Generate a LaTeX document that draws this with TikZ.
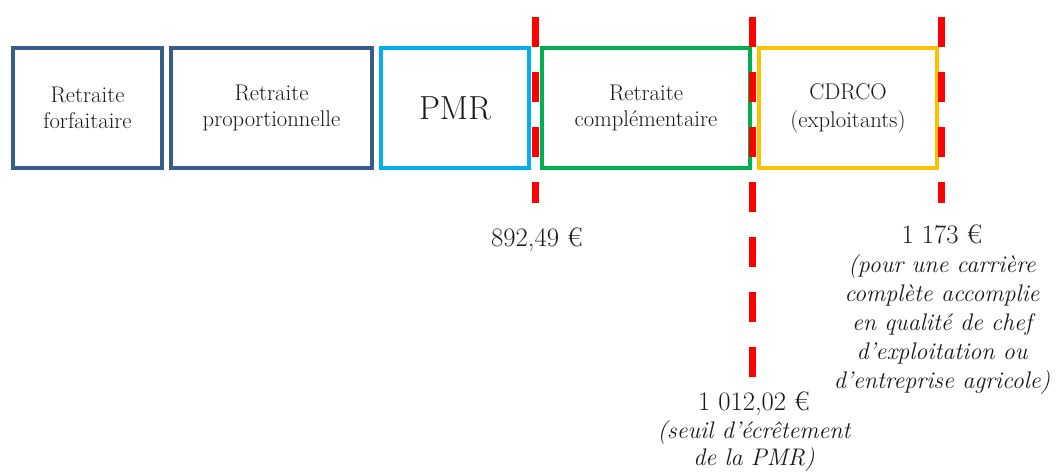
\documentclass[tikz,border=0pt]{standalone}
\usepackage{fontspec}
\definecolor{dblue}{HTML}{385D8A}
\definecolor{cyanb}{HTML}{00B0F0}
\definecolor{greenb}{HTML}{00B050}
\definecolor{yellowb}{HTML}{FFC000}
\definecolor{redl}{HTML}{FF0000}
\newcommand\fsz[2]{\fontsize{#1}{#2}\selectfont}
\tikzset{
  boxbase/.style={draw, line width=3pt, rectangle, inner sep=0pt, align=center,
    minimum height=120*0.75pt, text=black!90, font=\fsz{17pt}{20pt}},
  bluebox/.style={boxbase, draw=dblue},
  cyanbox/.style={boxbase, draw=cyanb},
  greenbox/.style={boxbase, draw=greenb},
  yellowbox/.style={boxbase, draw=yellowb},
  redline/.style={draw=redl, line width=5.25pt, dash pattern=on 22.5pt off 18.75pt},
  lbl/.style={align=center, text=black!90, inner sep=0pt, font=\fsz{18pt}{21.75pt}}
}
\begin{document}
\begin{tikzpicture}[x=0.75pt, y=-0.75pt]
\useasboundingbox (0,0) rectangle (1056,473);
\node[bluebox, minimum width=149*0.75pt] (b1) at (87.5,108) {Retraite\\forfaitaire};
\node[bluebox, minimum width=201*0.75pt] (b2) at (271.5,108) {Retraite\\proportionnelle};
\node[cyanbox, minimum width=148*0.75pt, font=\fsz{25pt}{28pt}] (b3) at (455,108) {PMR};
\node[greenbox, minimum width=208*0.75pt] (b4) at (646,108) {Retraite\\complémentaire};
\node[yellowbox, minimum width=178*0.75pt, font=\fsz{17pt}{21pt}] (b5) at (848,108) {CDRCO\\(exploitants)};
\coordinate (r1t) at (535,17);
\coordinate (r1b) at (535,203);
\coordinate (r2t) at (752,17);
\coordinate (r2b) at (752,380);
\coordinate (r3t) at (941,17);
\coordinate (r3b) at (941,203);
\draw[redline] (r1t) -- (r1b);
\draw[redline] (r2t) -- (r2b);
\draw[redline] (r3t) -- (r3b);
\node[lbl, font=\fsz{20pt}{21.75pt}] (l1) at (537,240) {892,49 €};
\node[lbl, anchor=north] (l3) at (942,225) {{\fsz{20pt}{21.75pt}1 173 €}\\\itshape (pour une carrière\\\itshape complète accomplie\\\itshape en qualité de chef\\\itshape d’exploitation ou\\\itshape d’entreprise agricole)};
\node[lbl, anchor=north, font=\fsz{18pt}{20.5pt}] (l2) at (754,392) {{\fsz{20pt}{20.5pt}1 012,02 €}\\\itshape (seuil d’écrêtement\\\itshape de la PMR)};
\end{tikzpicture}
\end{document}
